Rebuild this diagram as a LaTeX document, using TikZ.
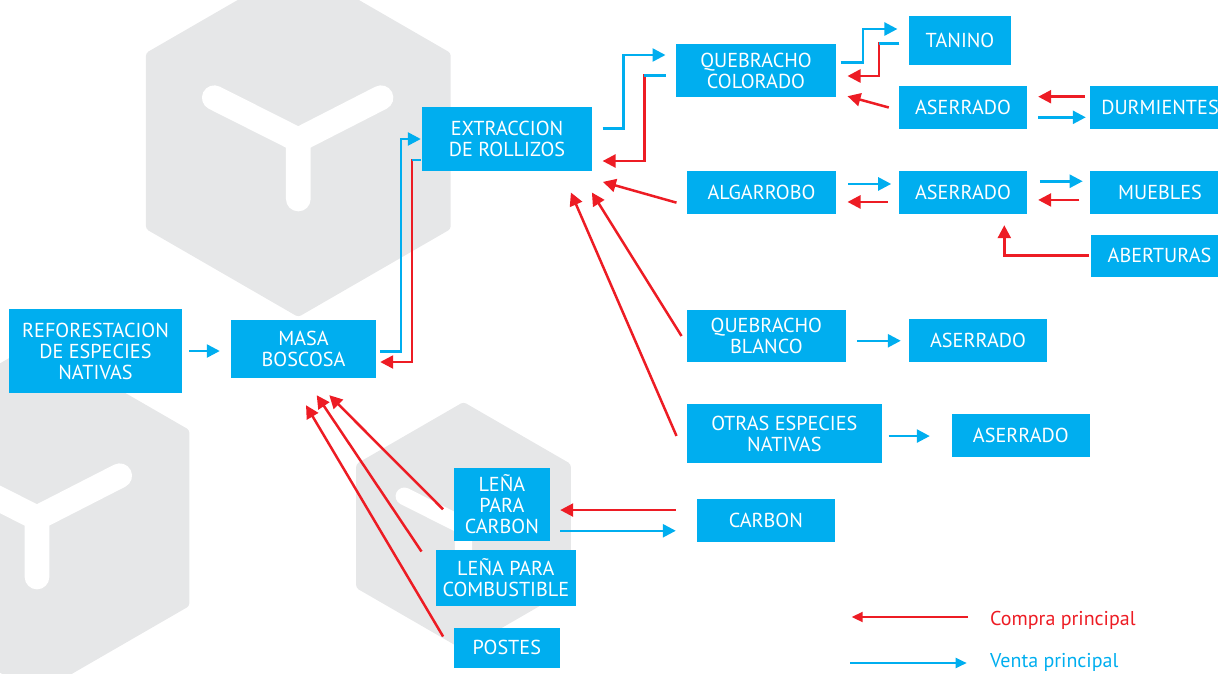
\documentclass[tikz,border=0pt]{standalone}
\usepackage{fontspec}
\setmainfont{PT Sans}
\usetikzlibrary{arrows.meta,calc}
\definecolor{cy}{RGB}{0,174,239}
\definecolor{rd}{RGB}{237,28,36}
\definecolor{hexgray}{RGB}{230,231,232}
\newcommand{\mybox}[6]{\node[box, minimum width={#4-#2}, minimum height={#5-#3}] (#1) at ({(#2+#4)/2},{(#3+#5)/2}) {#6};}
\begin{document}
\begin{tikzpicture}[x=1pt,y=-1pt,
  box/.style={fill=cy, text=white, inner sep=0pt, align=center, font=\fontsize{20.2}{21}\selectfont},
  barr/.style={draw=cy, line width=2.5pt, -{Triangle[length=13pt,width=13pt]}},
  rarr/.style={draw=rd, line width=2.5pt, -{Triangle[length=13pt,width=13pt]}},
  stub/.style={draw=cy, line width=2.5pt},
  legr/.style={draw=rd, line width=2pt, -{Triangle[length=11pt,width=10pt]}},
  legb/.style={draw=cy, line width=2pt, -{Triangle[length=11pt,width=10pt]}},
  legtext/.style={anchor=base west, inner sep=0pt, font=\fontsize{20}{24}\selectfont},
  hexbg/.style={fill=hexgray, rounded corners=3pt},
  yarm/.style={draw=white, line cap=round, line join=round},
]
\useasboundingbox (0,0) rectangle (1218,673);
% background hexagons
\fill[hexbg] (298.3,141) +(90:176) -- +(30:176) -- +(-30:176) -- +(-90:176) -- +(-150:176) -- +(150:176) -- cycle;
\fill[hexbg] (37,518) +(90:176) -- +(30:176) -- +(-30:176) -- +(-90:176) -- +(-150:176) -- +(150:176) -- cycle;
\fill[hexbg] (463.5,526) +(90:124) -- +(30:124) -- +(-30:124) -- +(-90:124) -- +(-150:124) -- +(150:124) -- cycle;
\draw[yarm, line width=24.7pt] (214.3,97.7) -- (298.3,140) -- (381,97.7) (298.3,140) -- (298.3,199);
\draw[yarm, line width=24.7pt] (-47,475.7) -- (37,518) -- (119.7,475.7) (37,518) -- (37,577);
\draw[yarm, line width=17.4pt] (404.3,496.2) -- (463.5,526) -- (521.8,496.2) (463.5,526) -- (463.5,567.6);
% boxes
\mybox{refo}{9}{309}{182}{393}{REFORESTACION\\DE ESPECIES\\NATIVAS}
\mybox{masa}{231}{320}{376}{378}{MASA\\BOSCOSA}
\mybox{extr}{422}{107}{592}{171}{EXTRACCION\\DE ROLLIZOS}
\mybox{quecol}{676}{44}{836}{97}{QUEBRACHO\\COLORADO}
\mybox{tanino}{909}{16}{1011}{65}{TANINO}
\mybox{aser1}{899}{86}{1027}{129}{ASERRADO}
\mybox{durm}{1090}{86}{1230}{129}{DURMIENTES}
\mybox{algar}{687}{171}{836}{213.5}{ALGARROBO}
\mybox{aser2}{899}{171}{1027}{213.5}{ASERRADO}
\mybox{muebles}{1090}{171}{1230}{213.5}{MUEBLES}
\mybox{aberturas}{1091}{234.5}{1228}{276.5}{ABERTURAS}
\mybox{queblan}{687}{309.5}{845.7}{361.7}{QUEBRACHO\\BLANCO}
\mybox{aser3}{909}{319}{1047}{361.7}{ASERRADO}
\mybox{otras}{687}{404}{881.7}{463.3}{OTRAS ESPECIES\\NATIVAS}
\mybox{aser4}{952}{414}{1089.7}{456.7}{ASERRADO}
\mybox{carbon}{697}{499}{834.7}{541.7}{CARBON}
\mybox{lcarb}{454}{468}{549.7}{540.7}{LEÑA\\PARA\\CARBON}
\mybox{lcomb}{436}{550}{575.7}{605.7}{LEÑA PARA\\COMBUSTIBLE}
\mybox{postes}{454}{627.7}{559.7}{668}{POSTES}
% blue (venta) connectors
\draw[barr] ($(refo.east)+(7,0)$) -- ($(masa.west |- refo.east)+(-11,0)$);
\draw[barr] ($(masa.east)+(4,2.7)$) -| ($(extr.west)+(-21,0)$) -- ($(extr.west)+(-1,0)$);
\draw[barr] ($(extr.east)+(10.4,-10.7)$) -| ($(quecol.west)+(-52.3,-15.5)$) -- ($(quecol.west)+(-10.3,-15.5)$);
\draw[barr] ($(quecol.east)+(4.4,-8.2)$) -| ($(tanino.west)+(-46,-11.5)$) -- ($(tanino.west)+(-11.4,-11.5)$);
\draw[barr] ($(aser1.east)+(11,9.8)$) -- ($(durm.west)+(-4,9.8)$);
\draw[barr] ($(algar.east)+(11.8,-8.3)$) -- ($(aser2.west)+(-7.6,-8.3)$);
\draw[barr] ($(aser2.east)+(12.6,-11)$) -- ($(muebles.west)+(-7.1,-11)$);
\draw[barr] ($(queblan.east |- aser3.west)+(11,0.4)$) -- ($(aser3.west)+(-8,0.4)$);
\draw[barr] ($(otras.east |- aser4.west)+(6.6,0.7)$) -- ($(aser4.west)+(-22,0.7)$);
\draw[barr] ($(lcarb.east)+(10.3,26.4)$) -- ($(carbon.west |- lcarb.east)+(-21,26.4)$);
% red (compra) connectors
\draw[rarr] ($(extr.west)+(-1,21)$) -- ($(extr.west)+(-10,21)$) |- ($(masa.east)+(4,13)$);
\draw[rarr] ($(quecol.west)+(-10.3,5.2)$) -- ($(quecol.west)+(-31.5,5.2)$) |- ($(extr.east)+(10.4,22)$);
\draw[rarr] ($(tanino.west)+(-9.4,2.8)$) -- ($(tanino.west)+(-30,2.8)$) |- ($(quecol.east)+(11.3,5.5)$);
\draw[rarr] ($(aser1.west)+(-10,0)$) -- ($(quecol.south east)+(11.3,-1)$);
\draw[rarr] ($(durm.west)+(-5,-10.8)$) -- ($(aser1.east)+(11,-10.8)$);
\draw[rarr] ($(aser2.west)+(-11,9.7)$) -- ($(algar.east)+(11.3,9.7)$);
\draw[rarr] ($(muebles.west)+(-10.4,7.7)$) -- ($(aser2.east)+(11,7.7)$);
\draw[rarr] ($(aberturas.west)+(-1.7,0)$) -| ($(aser2.south)+(41.3,11.5)$);
\draw[rarr] ($(algar.west)+(-10.3,10.4)$) -- ($(extr.south east)+(10.7,10.7)$);
\draw[rarr] ($(queblan.west)+(-5.3,0.4)$) -- ($(extr.south east)+(-0.3,21.3)$);
\draw[rarr] ($(otras.west)+(-10.3,2.3)$) -- ($(extr.south east)+(-21.3,21.3)$);
\draw[rarr] ($(carbon.west |- lcarb.east)+(-21,5.7)$) -- ($(lcarb.east)+(10.3,5.7)$);
\draw[rarr] ($(lcarb.west)+(-10.7,5)$) -- ($(masa.south)+(25.8,17)$);
\draw[rarr] ($(lcomb.north west)+(-14.3,1.7)$) -- ($(masa.south)+(13.2,17)$);
\draw[rarr] ($(postes.north west)+(-10.7,9)$) -- ($(masa.south)+(2.5,27)$);
% blue stubs at the start of the red connectors
\draw[stub] ($(extr.west)+(-1,21)$) -- ($(extr.west)+(-10,21)$);
\draw[stub] ($(quecol.west)+(-10.3,5.2)$) -- ($(quecol.west)+(-31.5,5.2)$);
\draw[stub] ($(tanino.west)+(-9.4,2.8)$) -- ($(tanino.west)+(-30,2.8)$);
% legend
\coordinate (lra) at (968,617);
\coordinate (lrb) at (851.7,617);
\coordinate (lba) at (850,663);
\coordinate (lbb) at (966.7,663);
\draw[legr] (lra) -- (lrb);
\draw[legb] (lba) -- (lbb);
\node[legtext, text=rd] (lcompra) at (990,625) {Compra principal};
\node[legtext, text=cy] (lventa) at (990,667.5) {Venta principal};
\end{tikzpicture}
\end{document}
